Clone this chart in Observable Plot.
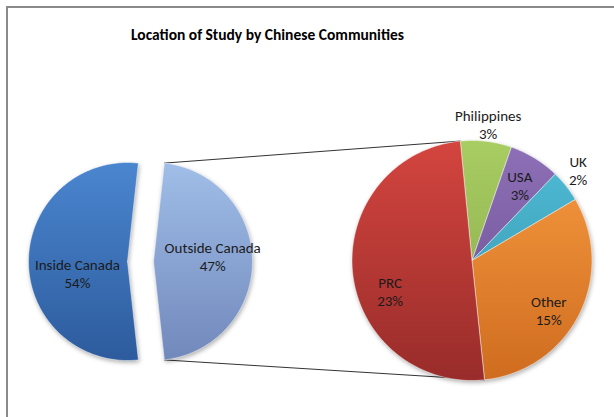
<!DOCTYPE html>
<html><head><meta charset="utf-8">
<script src="https://cdn.jsdelivr.net/npm/d3@7"></script>
<script src="https://cdn.jsdelivr.net/npm/@observablehq/plot@0.6"></script>
<style>
body{margin:0;background:#fff;}
#wrap{position:relative;width:614px;height:417px;overflow:hidden;background:#fff;}
#frame{position:absolute;left:6px;top:6px;width:700px;height:500px;border-left:2.5px solid #8a8a8a;border-top:2.5px solid #8a8a8a;pointer-events:none;}
#chart{position:absolute;left:0;top:0;}
</style></head><body>
<div id="wrap"><div id="chart"></div><div id="frame"></div></div>
<script>
// ---- data ----
const title = "Location of Study by Chinese Communities";
const mainCats = ["Inside Canada", "Outside Canada"];
const mainValues = [53.5, 46.5];
const subCats = ["Philippines", "USA", "UK", "Other", "PRC"];
const subValues = [3.2, 3.2, 2.0, 14.8, 23.3];

// ---- styling / layout ----
const gradients = {
  "Inside Canada": ["#4a86cf", "#2d5b9d"],
  "Outside Canada": ["#a0bee8", "#7188bb"],
  "Philippines": ["#a8cd62", "#86a54a"],
  "USA": ["#8e70b8", "#674c8b"],
  "UK": ["#50bcd6", "#3592ab"],
  "Other": ["#f89c42", "#cf6c1f"],
  "PRC": ["#d4453f", "#982c2a"]
};
const W = 614, H = 417;
const left = {cx: 127, cy: 261, r: 99, explode: 26};
const right = {cx: 471.5, cy: 260, r: 120, start: -5.6};
const labelLayout = {
  "Inside Canada": {k: 0.52, da: -13.5},
  "Outside Canada": {k: 0.6, da: -5},
  "Philippines": {k: 1.14, da: 0},
  "USA": {k: 0.74, da: 1},
  "UK": {k: 1.16, da: -2},
  "Other": {k: 0.76, da: 6},
  "PRC": {k: 0.73, da: -15}
};
const rad = a => a * Math.PI / 180;
const pt = (cx, cy, r, a) => [cx + r * Math.sin(rad(a)), cy - r * Math.cos(rad(a))];

// ---- build slices from values ----
const slices = [];
const mainTotal = d3.sum(mainValues);
const outsideSpan = 360 * mainValues[1] / mainTotal;
let a = 90 - outsideSpan / 2;
// Outside Canada first (exploded, on the right), then Inside Canada
[1, 0].forEach(i => {
  const span = 360 * mainValues[i] / mainTotal;
  const ox = i === 1 ? left.explode : 0;
  slices.push({name: mainCats[i], value: mainValues[i], cx: left.cx + ox, cy: left.cy, r: left.r, a0: a, a1: a + span});
  a += span;
});
const subTotal = d3.sum(subValues);
a = right.start;
subCats.forEach((c, i) => {
  const span = 360 * subValues[i] / subTotal;
  slices.push({name: c, value: subValues[i], cx: right.cx, cy: right.cy, r: right.r, a0: a, a1: a + span});
  a += span;
});

const points = [];
slices.forEach(s => {
  points.push({name: s.name, x: s.cx, y: s.cy});
  const n = Math.max(2, Math.ceil(Math.abs(s.a1 - s.a0)));
  for (let j = 0; j <= n; j++) {
    const [x, y] = pt(s.cx, s.cy, s.r, s.a0 + (s.a1 - s.a0) * j / n);
    points.push({name: s.name, x, y});
  }
  points.push({name: s.name, x: s.cx, y: s.cy});
});

const labels = slices.map(s => {
  const L = labelLayout[s.name];
  const mid = (s.a0 + s.a1) / 2 + L.da;
  const [x, y] = pt(s.cx, s.cy, s.r * L.k, mid);
  return {x, y, text: `${s.name}\n${Math.round(s.value)}%`};
});

// connector lines: from exploded slice edges to the second pie
const outside = slices.find(s => s.name === "Outside Canada");
const prc = slices.find(s => s.name === "PRC");
const [tx0, ty0] = pt(outside.cx, outside.cy, outside.r, outside.a0);
const [bx0, by0] = pt(outside.cx, outside.cy, outside.r, outside.a1);
const [tx1, ty1] = pt(right.cx, right.cy, right.r, prc.a1);
const [bx1, by1] = pt(right.cx, right.cy, right.r, prc.a0);
const connectors = [
  {id: "top", x: tx0, y: ty0}, {id: "top", x: tx1, y: ty1},
  {id: "bot", x: bx0, y: by0}, {id: "bot", x: bx1, y: by1}
];

const gid = name => "g-" + name.replace(/\s+/g, "-");
const font = "Carlito, Lato, 'Open Sans', sans-serif";

const svg = Plot.plot({
  width: W, height: H,
  marginTop: 0, marginRight: 0, marginBottom: 0, marginLeft: 0,
  x: {domain: [0, W], range: [0, W], axis: null},
  y: {domain: [0, H], range: [0, H], axis: null},
  color: {type: "identity"},
  style: {fontFamily: font, background: "transparent"},
  marks: [
    Plot.line(connectors, {x: "x", y: "y", z: "id", stroke: "#333", strokeWidth: 1}),
    Plot.line(points, {x: "x", y: "y", z: "name", fill: d => `url(#${gid(d.name)})`, stroke: "#ffffff", strokeOpacity: 0.45, strokeWidth: 1, strokeLinejoin: "round", curve: "linear"}),
    Plot.text(labels, {x: "x", y: "y", text: "text", fontSize: 15, fill: "#1b1b1b", lineHeight: 1.2, lineAnchor: "middle"}),
    Plot.text([title], {x: 267, y: 35, text: d => d, fontSize: 15.5, fontWeight: "bold", fill: "#000"})
  ]
});

const sel = d3.select(svg);
const defs = sel.insert("defs", ":first-child");
const ys = svg.scale("y");
slices.forEach(s => {
  const [c0, c1] = gradients[s.name];
  const g = defs.append("linearGradient").attr("id", gid(s.name))
    .attr("gradientUnits", "userSpaceOnUse")
    .attr("x1", 0).attr("x2", 0)
    .attr("y1", ys.apply(s.cy - s.r)).attr("y2", ys.apply(s.cy + s.r));
  g.append("stop").attr("offset", "0%").attr("stop-color", c0);
  g.append("stop").attr("offset", "100%").attr("stop-color", c1);
});
sel.selectAll("g[aria-label=line]").filter((d, i) => i === 1)
  .style("filter", "drop-shadow(1px 2px 2px rgba(0,0,0,0.3))");
document.getElementById("chart").appendChild(svg);
</script>
</body></html>
